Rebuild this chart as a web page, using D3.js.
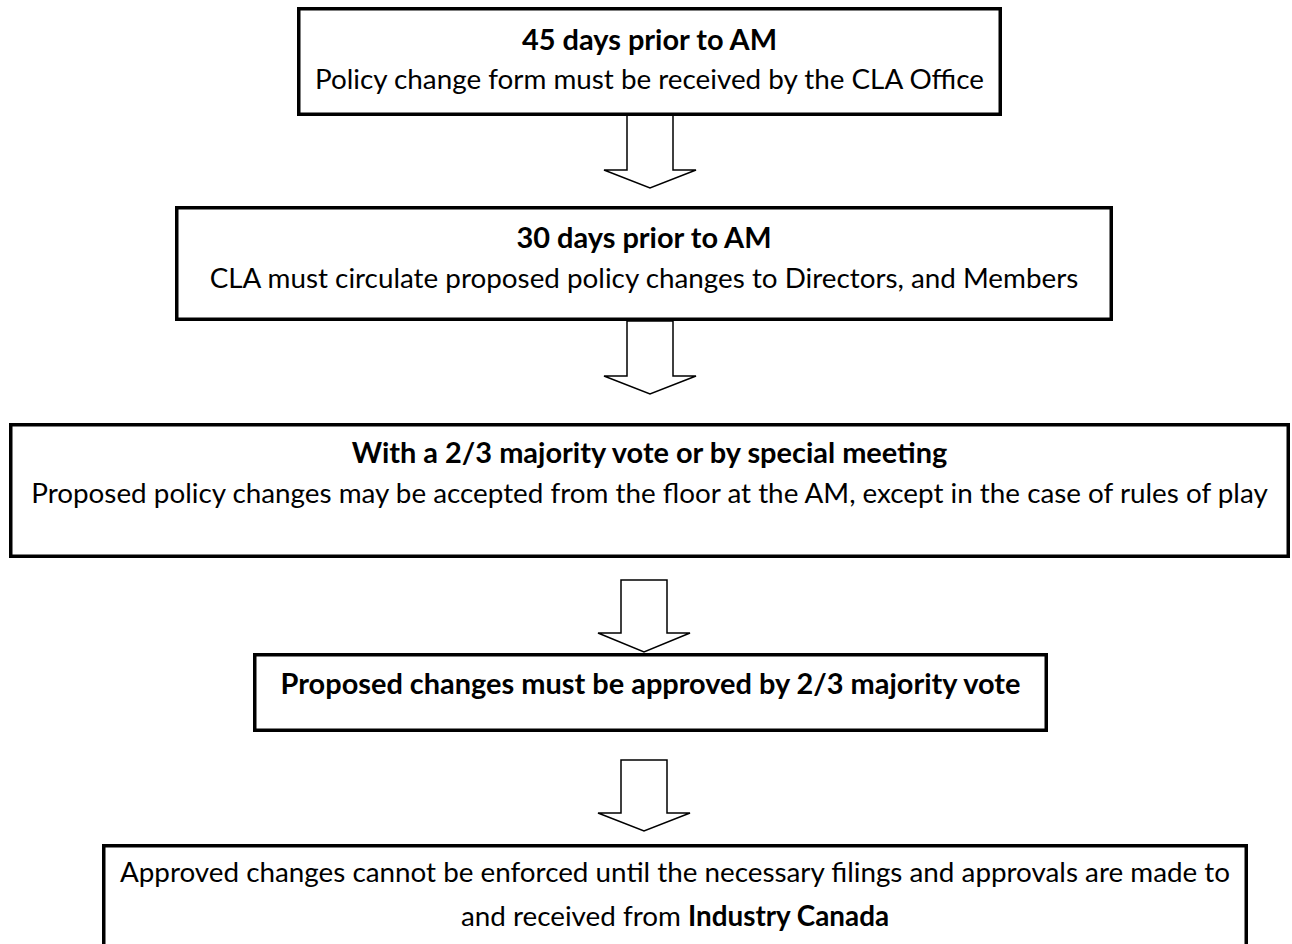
<!DOCTYPE html>
<html>
<head>
<meta charset="utf-8">
<script src="https://cdn.jsdelivr.net/npm/d3@7"></script>
<style>
  html, body { margin: 0; padding: 0; background: #fff; }
  svg { display: block; }
  text { font-family: Lato, "Open Sans", sans-serif; fill: #000; }
</style>
</head>
<body>
<svg id="chart" width="1292" height="944"></svg>
<script>
  // step texts (heading in bold, then body lines)
  var headings = [
    "45 days prior to AM",
    "30 days prior to AM",
    "With a 2/3 majority vote or by special meeting",
    "Proposed changes must be approved by 2/3 majority vote",
    null
  ];
  var bodies = [
    ["Policy change form must be received by the CLA Office"],
    ["CLA must circulate proposed policy changes to Directors, and Members"],
    ["Proposed policy changes may be accepted from the floor at the AM, except in the case of rules of play"],
    [],
    ["Approved changes cannot be enforced until the necessary filings and approvals are made to",
     [["and received from ", false], ["Industry Canada", true]]]
  ];

  // box outlines, outer edges in px
  var boxLeft   = [297, 175, 9, 253, 102];
  var boxRight  = [1002, 1113, 1290, 1048, 1248];
  var boxTop    = [7, 206, 423, 653, 844];
  var boxBottom = [116, 321, 558, 732, 970];

  // text baselines per box
  var headBase = [50, 248, 463, 694, null];
  var bodyBase = [[89], [288], [503], [], [882, 926]];

  // arrows between boxes
  var arrowCx    = [650, 650, 644, 644];
  var arrowTop   = [115, 321, 580, 760];
  var arrowNeck  = [170, 376, 633, 813];
  var arrowTip   = [188, 394, 652, 831];

  var svg = d3.select("#chart");
  var fontSize = 22;

  // arrows
  var shaftHalf = 23, headHalf = 46;
  svg.selectAll(".arrow")
    .data(arrowCx)
    .enter().append("path")
    .attr("class", "arrow")
    .attr("fill", "#fff")
    .attr("stroke", "#000")
    .attr("stroke-width", 1.5)
    .attr("d", function(cx, i) {
      var p = d3.path();
      p.moveTo(cx - shaftHalf, arrowTop[i]);
      p.lineTo(cx - shaftHalf, arrowNeck[i]);
      p.lineTo(cx - headHalf, arrowNeck[i]);
      p.lineTo(cx, arrowTip[i]);
      p.lineTo(cx + headHalf, arrowNeck[i]);
      p.lineTo(cx + shaftHalf, arrowNeck[i]);
      p.lineTo(cx + shaftHalf, arrowTop[i]);
      p.closePath();
      return p.toString();
    });

  // boxes
  var sw = 3.5;
  svg.selectAll(".box")
    .data(boxLeft)
    .enter().append("rect")
    .attr("class", "box")
    .attr("x", function(d) { return d + sw / 2; })
    .attr("y", function(d, i) { return boxTop[i] + sw / 2; })
    .attr("width", function(d, i) { return boxRight[i] - d - sw; })
    .attr("height", function(d, i) { return boxBottom[i] - boxTop[i] - sw; })
    .attr("fill", "none")
    .attr("stroke", "#000")
    .attr("stroke-width", sw);

  // texts
  var g = svg.append("g").attr("class", "labels");
  headings.forEach(function(h, i) {
    var cx = (boxLeft[i] + boxRight[i]) / 2;
    if (h) {
      g.append("text")
        .attr("class", "head")
        .attr("x", cx).attr("y", headBase[i])
        .attr("text-anchor", "middle")
        .attr("font-weight", "bold")
        .text(h);
    }
    bodies[i].forEach(function(line, j) {
      var t = g.append("text")
        .attr("class", "body")
        .attr("x", cx).attr("y", bodyBase[i][j])
        .attr("text-anchor", "middle");
      if (typeof line === "string") {
        t.text(line);
      } else {
        line.forEach(function(seg) {
          t.append("tspan")
            .attr("font-weight", seg[1] ? "bold" : null)
            .text(seg[0]);
        });
      }
    });
  });
  g.selectAll("text").attr("font-size", fontSize);

  // fit font size so the longest line spans like the reference
  var longest = g.selectAll("text").filter(function() {
    return d3.select(this).text().indexOf("rules of play") >= 0;
  }).node();
  var scale = 1237 / longest.getComputedTextLength();
  g.selectAll("text.body").attr("font-size", fontSize * scale);
  g.selectAll("text.head").attr("font-size", fontSize * scale * 1.04);
</script>
</body>
</html>
